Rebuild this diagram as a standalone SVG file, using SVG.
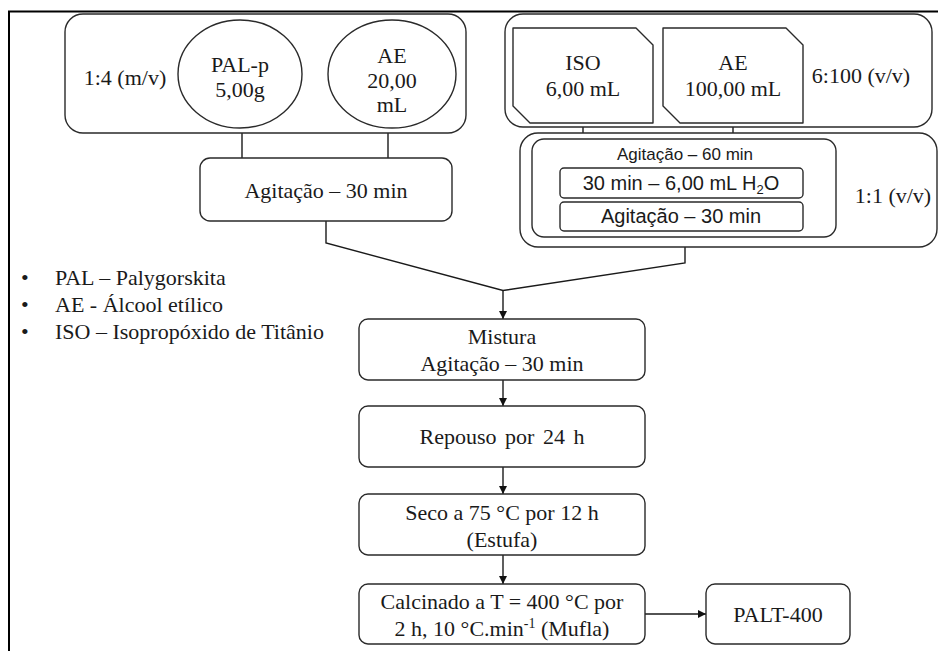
<svg xmlns="http://www.w3.org/2000/svg" width="938" height="651" viewBox="0 0 938 651">
<style>
.bx{fill:#fff;stroke:#2a2a2a;stroke-width:1.4}
.ln{fill:none;stroke:#1a1a1a;stroke-width:1.4}
.t{font-family:"Liberation Serif","Times New Roman",serif;font-size:22px;fill:#1a1a1a;text-anchor:middle}
.tl{font-family:"Liberation Serif","Times New Roman",serif;font-size:22px;fill:#1a1a1a}
.s{font-family:"Liberation Sans",Arial,sans-serif;font-size:20px;fill:#1a1a1a;text-anchor:middle}
.ss{font-family:"Liberation Sans",Arial,sans-serif;font-size:17px;fill:#1a1a1a;text-anchor:middle}
</style>
<defs>
<marker id="ah" viewBox="0 0 10 10" refX="10" refY="5" markerWidth="9" markerHeight="8" markerUnits="userSpaceOnUse" orient="auto">
<path d="M0,0 L10,5 L0,10 z" fill="#111"/>
</marker>
</defs>
<rect width="938" height="651" fill="#fff"/>
<g id="frame">
<path d="M9,651 L9,11.5 L938,11.5" fill="none" stroke="#000" stroke-width="2"/>
</g>
<g id="connectors">
<path class="ln" d="M242,133 V158 M388,133 V158"/>
<path class="ln" d="M583,127 V139 M733,127 V139"/>
<path class="ln" d="M326,221 V243 L503,290.5 L685,263 V237"/>
<path class="ln" d="M503,290.5 V319" marker-end="url(#ah)"/>
<path class="ln" d="M503,380 V406" marker-end="url(#ah)"/>
<path class="ln" d="M503,467 V494" marker-end="url(#ah)"/>
<path class="ln" d="M503,555 V584" marker-end="url(#ah)"/>
<path class="ln" d="M645,614 H706" marker-end="url(#ah)"/>
</g>
<g id="group-left">
<rect class="bx" x="65" y="14" width="401" height="119" rx="18"/>
<text class="t" x="125" y="85">1:4 (m/v)</text>
</g>
<g id="pal-p">
<ellipse class="bx" cx="240" cy="74" rx="62" ry="54"/>
<text class="t" x="240" y="72">PAL-p</text>
<text class="t" x="240" y="97">5,00g</text>
</g>
<g id="ae-left">
<ellipse class="bx" cx="392" cy="74" rx="64" ry="54"/>
<text class="t" x="392" y="63">AE</text>
<text class="t" x="392" y="88">20,00</text>
<text class="t" x="392" y="112">mL</text>
</g>
<g id="agitacao-left">
<rect class="bx" x="200" y="158" width="252" height="63" rx="10"/>
<text class="t" x="326" y="198">Agitação – 30 min</text>
</g>
<g id="group-right">
<rect class="bx" x="505" y="14" width="427" height="113" rx="18"/>
<text class="t" x="861" y="83">6:100 (v/v)</text>
</g>
<g id="iso">
<polygon class="bx" stroke-linejoin="round" points="513,28 636,28 653,45 653,123 530,123 513,106"/>
<text class="t" x="583" y="70">ISO</text>
<text class="t" x="583" y="96">6,00 mL</text>
</g>
<g id="ae-right">
<polygon class="bx" stroke-linejoin="round" points="663,28 786,28 803,45 803,123 680,123 663,106"/>
<text class="t" x="733" y="70">AE</text>
<text class="t" x="733" y="96">100,00 mL</text>
</g>
<g id="group-11">
<rect class="bx" x="520" y="133" width="417" height="114" rx="18"/>
<text class="t" x="893" y="203">1:1 (v/v)</text>
</g>
<g id="agitacao-60">
<rect class="bx" x="532" y="139" width="304" height="98" rx="12"/>
<text class="ss" x="685" y="160">Agitação – 60 min</text>
</g>
<g id="h2o">
<rect class="bx" x="560" y="168" width="243" height="30" rx="4"/>
<text class="s" x="681" y="190">30 min – 6,00 mL H<tspan font-size="13" dy="4">2</tspan><tspan dy="-4">O</tspan></text>
</g>
<g id="agitacao-30-right">
<rect class="bx" x="560" y="202" width="243" height="29" rx="4"/>
<text class="s" x="681" y="223">Agitação – 30 min</text>
</g>
<g id="legend">
<text class="tl" x="21" y="285">•</text>
<text class="tl" x="55" y="285">PAL – Palygorskita</text>
<text class="tl" x="21" y="312">•</text>
<text class="tl" x="55" y="312">AE - Álcool etílico</text>
<text class="tl" x="21" y="339">•</text>
<text class="tl" x="55" y="339">ISO – Isopropóxido de Titânio</text>
</g>
<g id="mistura">
<rect class="bx" x="359" y="319" width="286" height="61" rx="9"/>
<text class="t" x="502" y="344">Mistura</text>
<text class="t" x="502" y="371">Agitação – 30 min</text>
</g>
<g id="repouso">
<rect class="bx" x="359" y="406" width="286" height="61" rx="9"/>
<text class="t" x="502" y="444" word-spacing="3">Repouso por 24 h</text>
</g>
<g id="seco">
<rect class="bx" x="359" y="494" width="286" height="61" rx="9"/>
<text class="t" x="502" y="520">Seco a 75 °C por 12 h</text>
<text class="t" x="502" y="547">(Estufa)</text>
</g>
<g id="calcinado">
<rect class="bx" x="359" y="584" width="286" height="60" rx="9"/>
<text class="t" x="502" y="609">Calcinado a T = 400 °C por</text>
<text class="t" x="502" y="636">2 h, 10 °C.min<tspan font-size="14" dy="-8">-1</tspan><tspan dy="8">  (Mufla)</tspan></text>
</g>
<g id="palt-400">
<rect class="bx" x="706" y="584" width="144" height="60" rx="9"/>
<text class="t" x="778" y="622">PALT-400</text>
</g>
</svg>
